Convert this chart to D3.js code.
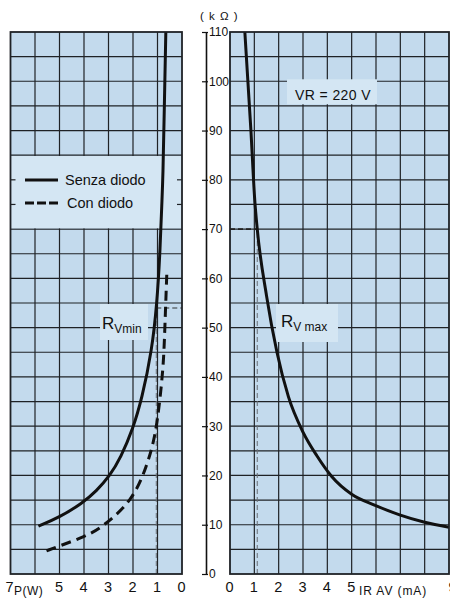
<!DOCTYPE html>
<html><head><meta charset="utf-8">
<script src="https://cdn.jsdelivr.net/npm/d3@7"></script>
<style>body{margin:0;background:#fff}svg{display:block}</style>
</head><body>
<svg id="c" width="450" height="598"></svg>
<script>
// ---- data ----
const pTicks = [7, 5, 4, 3, 2, 1, 0];
const iTicks = [0, 1, 2, 3, 4, 5, 9];
const rTicks = [0, 10, 20, 30, 40, 50, 60, 70, 80, 90, 100, 110];
const pGrid = [1, 2, 3, 4, 5, 6];
const iGrid = [1, 2, 3, 4, 5, 6, 7, 8];
const rGrid = [5,10,15,20,25,30,35,40,45,50,55,60,65,70,75,80,85,90,95,100,105];

const senzaP = [5.86, 5.0, 4.06, 3.5, 2.95, 2.5, 2.0, 1.64, 1.23, 1.02, 0.9, 0.82, 0.78, 0.72, 0.66];
const senzaR = [9.7, 11.5, 14.4, 16.8, 19.9, 23.6, 29.5, 35.5, 45.3, 55, 65, 75.7, 80, 95, 110];

const conP = [5.53, 5.0, 4.0, 3.24, 2.0, 1.43, 1.1, 0.9, 0.75, 0.7, 0.62];
const conR = [4.7, 5.7, 7.5, 9.5, 15, 22, 27.7, 35.2, 43, 50, 61];

const vmaxI = [0.61, 0.86, 1.02, 1.12, 1.5, 1.93, 2.4, 3.0, 3.57, 4.18, 5.0, 5.94, 6.97, 8.0, 9.0];
const vmaxR = [110, 90, 75.7, 70, 56.5, 45, 36, 28.8, 24, 19.8, 16.2, 14, 12, 10.5, 9.5];

const refLeftP = 1.05, refLeftR = 54;
const refRightI = 1.12, refRightR = 70;

// ---- layout ----
const svg = d3.select("#c");
const FONT = "'Liberation Sans', Arial, sans-serif";
const FILL = "#c3daed", BOX = "#d4e6f3", GRID = "#1f2226";
const xP = d3.scaleLinear().domain([7, 0]).range([10.5, 182]);
const xI = d3.scaleLinear().domain([0, 9]).range([230, 449]);
const y = d3.scaleLinear().domain([0, 110]).range([574, 32]);

function panel(xs, grid) {
  const [x0, x1] = xs.range();
  const g = svg.append("g");
  g.append("rect").attr("x", Math.min(x0,x1)).attr("y", y(110))
    .attr("width", Math.abs(x1 - x0)).attr("height", y(0) - y(110)).attr("fill", FILL);
  g.selectAll(".v").data(grid).join("line")
    .attr("x1", d => xs(d)).attr("x2", d => xs(d)).attr("y1", y(110)).attr("y2", y(0))
    .attr("stroke", GRID).attr("stroke-width", 1.2);
  g.selectAll(".h").data(rGrid).join("line")
    .attr("x1", x0).attr("x2", x1).attr("y1", d => y(d)).attr("y2", d => y(d))
    .attr("stroke", GRID).attr("stroke-width", 1.2);
  return g;
}
const gl = panel(xP, pGrid);
const gr = panel(xI, iGrid);

function box(g, x, yy, w, h) {
  g.append("rect").attr("x", x).attr("y", yy).attr("width", w).attr("height", h).attr("fill", BOX);
}
// legend box (left)
box(gl, xP(7), y(85) + 0.8, xP(0) - xP(7), y(70) - y(85) - 1.6);
[75, 80].forEach(r => {
  gl.append("line").attr("x1", xP(7)).attr("x2", xP(7) + 5).attr("y1", y(r)).attr("y2", y(r)).attr("stroke", GRID).attr("stroke-width", 1.2);
  gl.append("line").attr("x1", xP(0) - 5).attr("x2", xP(0)).attr("y1", y(r)).attr("y2", y(r)).attr("stroke", GRID).attr("stroke-width", 1.2);
});
box(gl, 100, y(55) + 1, 48, 36);
box(gr, 276, y(55) + 1, 62, 38);
box(gr, 287, y(100) - 2, 90, 25);

// reference dashed lines
const thin = (g, x1, y1, x2, y2, w, c) => g.append("line").attr("x1", x1).attr("y1", y1).attr("x2", x2).attr("y2", y2)
  .attr("stroke", c).attr("stroke-width", w).attr("stroke-dasharray", "5,3");
thin(gl, xP(refLeftP), y(0), xP(refLeftP), y(refLeftR), 1, "#6a6f75");
thin(gl, xP(refLeftP), y(refLeftR), xP(0), y(refLeftR), 1.1, "#333");
thin(gr, xI(refRightI), y(0), xI(refRightI), y(refRightR), 1, "#6a6f75");
thin(gr, xI(0), y(refRightR), xI(refRightI), y(refRightR), 1.8, "#222");

// curves
const lineL = d3.line().x(d => xP(d[0])).y(d => y(d[1])).curve(d3.curveBasis);
const lineR = d3.line().x(d => xI(d[0])).y(d => y(d[1])).curve(d3.curveMonotoneX);
gl.append("path").attr("d", lineL(d3.zip(senzaP, senzaR))).attr("fill", "none").attr("stroke", "#111").attr("stroke-width", 3);
gl.append("path").attr("d", lineL(d3.zip(conP, conR))).attr("fill", "none").attr("stroke", "#111").attr("stroke-width", 3).attr("stroke-dasharray", "10,6");
gr.append("path").attr("d", lineR(d3.zip(vmaxI, vmaxR))).attr("fill", "none").attr("stroke", "#111").attr("stroke-width", 3);

// borders
[[xP, gl], [xI, gr]].forEach(([xs, g]) => {
  const [a, b] = xs.range();
  g.append("rect").attr("x", Math.min(a,b)).attr("y", y(110)).attr("width", Math.abs(b - a)).attr("height", y(0) - y(110))
    .attr("fill", "none").attr("stroke", GRID).attr("stroke-width", 1.8);
});

// legend
const lg = svg.append("g").attr("font-family", FONT).attr("font-size", 14.5).attr("fill", "#111");
lg.append("line").attr("x1", 25).attr("x2", 58).attr("y1", 180).attr("y2", 180).attr("stroke", "#111").attr("stroke-width", 3);
lg.append("line").attr("x1", 25).attr("x2", 58).attr("y1", 203).attr("y2", 203).attr("stroke", "#111").attr("stroke-width", 3).attr("stroke-dasharray", "9,3");
lg.append("text").attr("x", 65).attr("y", 185).text("Senza diodo");
lg.append("text").attr("x", 67).attr("y", 208).text("Con diodo");

// annotations
const ann = svg.append("g").attr("font-family", FONT).attr("fill", "#111");
const rv1 = ann.append("text").attr("x", 102).attr("y", 329).attr("font-size", 17);
rv1.append("tspan").text("R");
rv1.append("tspan").attr("font-size", 12).attr("dy", 4).text("Vmin");
const rv2 = ann.append("text").attr("x", 281).attr("y", 327).attr("font-size", 17);
rv2.append("tspan").text("R");
rv2.append("tspan").attr("font-size", 12).attr("dy", 4).text("V max");
ann.append("text").attr("x", 295).attr("y", 100).attr("font-size", 14).attr("letter-spacing", 0.4).text("VR = 220 V");

// central axis
const ax = svg.append("g").attr("transform", "translate(206,0)")
  .call(d3.axisRight(y).tickValues(rTicks).tickSizeInner(-4).tickSizeOuter(0).tickPadding(3));
ax.selectAll("line").attr("x1", -4).attr("x2", 2).attr("stroke", "#111").attr("stroke-width", 1.2);
ax.select(".domain").attr("stroke", "#111").attr("stroke-width", 1.6);
ax.selectAll("text").attr("font-family", FONT).attr("font-size", 12).attr("fill", "#111");
svg.append("text").attr("x", 200).attr("y", 20).attr("font-family", FONT).attr("font-size", 11.5)
  .attr("letter-spacing", 1).attr("fill", "#111").text("( k Ω )");

// bottom axes
function bottom(xs, vals) {
  const a = svg.append("g").attr("transform", "translate(0,574)")
    .call(d3.axisBottom(xs).tickValues(vals).tickFormat(d3.format("d")).tickSize(0).tickPadding(8));
  a.select(".domain").remove();
  a.selectAll("text").attr("font-family", FONT).attr("font-size", 14.5).attr("fill", "#111").attr("dx", -1);
  return a;
}
bottom(xP, pTicks).selectAll("text").filter(d => d === 7).attr("dx", -1.5);
bottom(xI, iTicks).selectAll("text").filter(d => d === 9).attr("dx", 3);
svg.append("text").attr("x", 14).attr("y", 595).attr("font-family", FONT).attr("font-size", 12).attr("letter-spacing", 0.5).attr("fill", "#111").text("P(W)");
svg.append("text").attr("x", 359).attr("y", 595).attr("font-family", FONT).attr("font-size", 12).attr("letter-spacing", 0.9).attr("fill", "#111").text("IR AV (mA)");
</script>
</body></html>
